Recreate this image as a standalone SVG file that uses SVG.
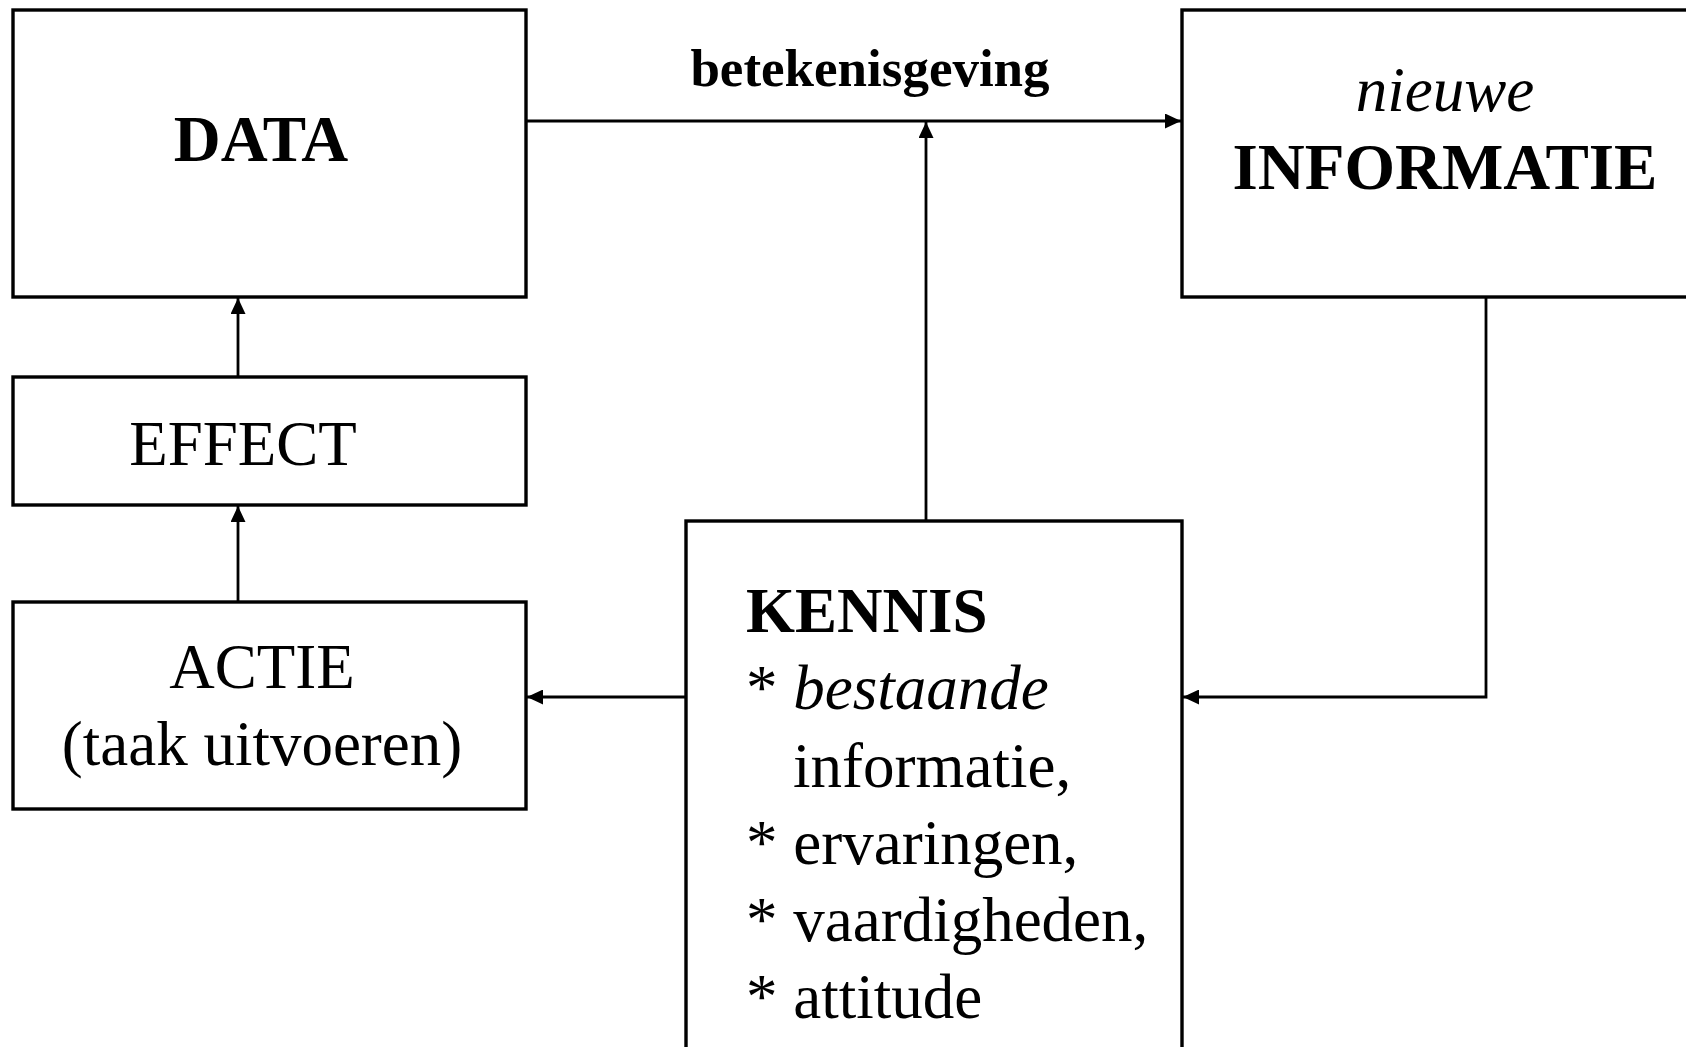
<svg xmlns="http://www.w3.org/2000/svg" width="1686" height="1047" viewBox="0 0 1686 1047">
<style>
  .box { fill: #ffffff; stroke: #000000; stroke-width: 3.4; }
  .conn { fill: none; stroke: #000000; stroke-width: 2.8; }
  text { font-family: "Liberation Serif", "Times New Roman", serif; fill: #000000; font-size: 63px; }
  .b { font-weight: bold; }
  .i { font-style: italic; }
  .c { text-anchor: middle; }
  .big { font-size: 65px; }
  .lbl { font-size: 53px; }
</style>
<defs>
  <marker id="arrow" markerUnits="userSpaceOnUse" markerWidth="17" markerHeight="15" refX="16" refY="7.5" orient="auto">
    <path d="M0,0 L16,7.5 L0,15 Z" fill="#000000"/>
  </marker>
</defs>
<rect width="1686" height="1047" fill="#ffffff"/>

<g id="connectors">
  <line class="conn" x1="526" y1="121" x2="1181" y2="121" marker-end="url(#arrow)"/>
  <line class="conn" x1="926" y1="521" x2="926" y2="122" marker-end="url(#arrow)"/>
  <polyline class="conn" points="1486,297 1486,697 1183,697" marker-end="url(#arrow)"/>
  <line class="conn" x1="686" y1="697" x2="527" y2="697" marker-end="url(#arrow)"/>
  <line class="conn" x1="238" y1="602" x2="238" y2="506" marker-end="url(#arrow)"/>
  <line class="conn" x1="238" y1="377" x2="238" y2="298" marker-end="url(#arrow)"/>
  <text class="b c lbl" x="870" y="86">betekenisgeving</text>
</g>

<g id="node-data">
  <rect class="box" x="13" y="10" width="513" height="287"/>
  <text class="b c big" x="261" y="161">DATA</text>
</g>

<g id="node-informatie">
  <rect class="box" x="1182" y="10" width="530" height="287"/>
  <text class="i c" x="1445" y="111">nieuwe</text>
  <text class="b c big" x="1445" y="189">INFORMATIE</text>
</g>

<g id="node-effect">
  <rect class="box" x="13" y="377" width="513" height="128"/>
  <text class="c" x="243" y="465">EFFECT</text>
</g>

<g id="node-actie">
  <rect class="box" x="13" y="602" width="513" height="207"/>
  <text class="c" x="262" y="688">ACTIE</text>
  <text class="c" x="262" y="765">(taak uitvoeren)</text>
</g>

<g id="node-kennis">
  <rect class="box" x="686" y="521" width="496" height="560"/>
  <text class="b" x="746" y="632">KENNIS</text>
  <text x="746" y="709">* <tspan class="i">bestaande</tspan></text>
  <text x="793" y="787">informatie,</text>
  <text x="746" y="864">* ervaringen,</text>
  <text x="746" y="941">* vaardigheden,</text>
  <text x="746" y="1018">* attitude</text>
</g>
</svg>
